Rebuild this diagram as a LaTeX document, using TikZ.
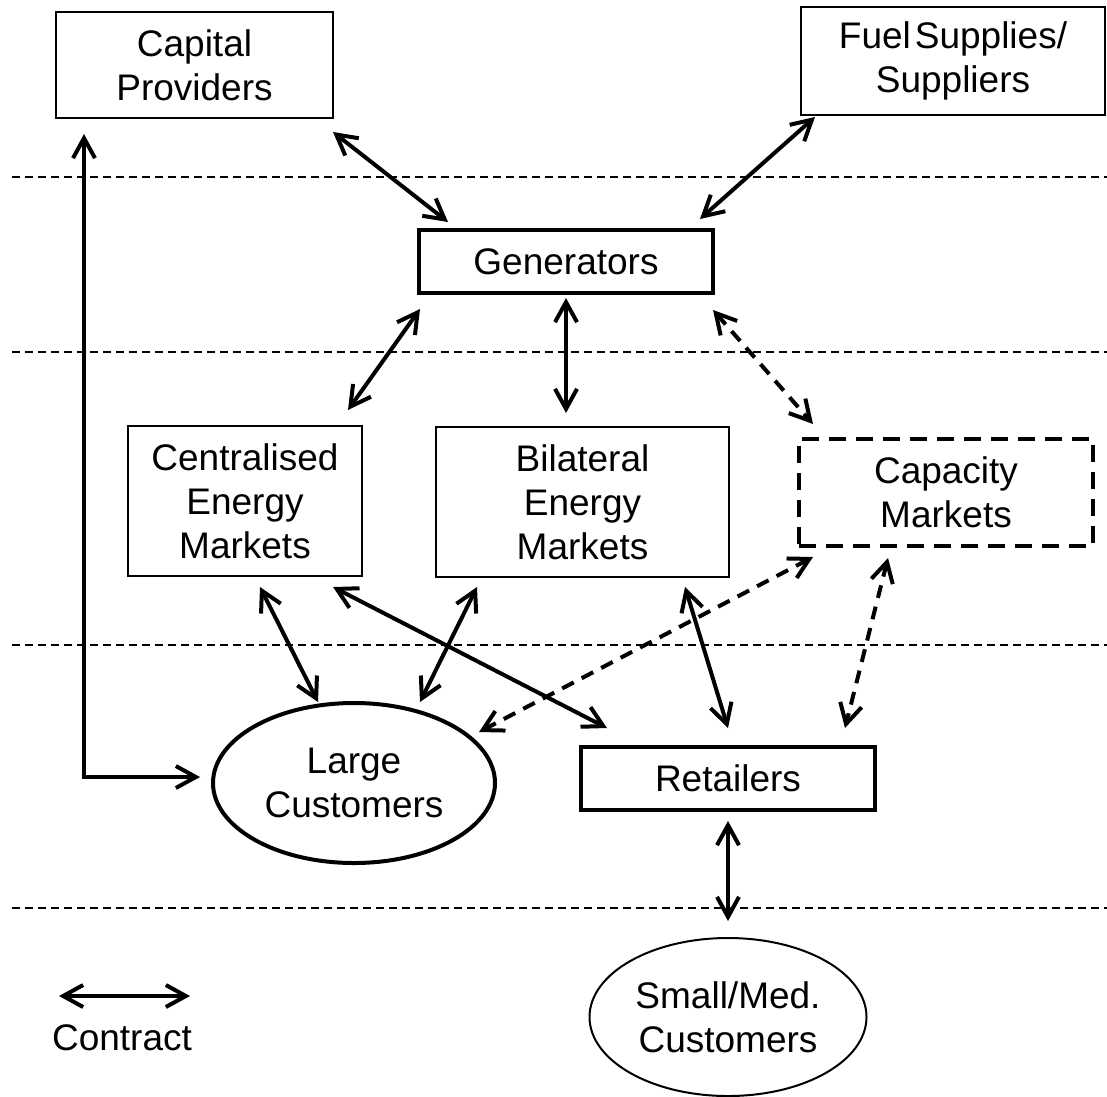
\documentclass[tikz,border=0pt]{standalone}
\usepackage{fontspec}
\setmainfont{Liberation Sans}
\usetikzlibrary{arrows.meta,shapes.geometric,calc}
\begin{document}
\begin{tikzpicture}[x=1pt,y=-1pt,
  every node/.style={font=\fontsize{37}{44}\selectfont, align=center, inner sep=0pt, outer sep=0pt},
  thinbox/.style={draw, line width=2.2pt, rectangle},
  thickbox/.style={draw, line width=4pt, rectangle},
  conn/.style={line width=4pt, {Straight Barb[length=20pt,width=22pt]}-{Straight Barb[length=20pt,width=22pt]}},
  dconn/.style={conn, dash pattern=on 13pt off 9pt},
  sep/.style={line width=1.8pt, dash pattern=on 8pt off 5pt}]

\fill[white] (0,0) rectangle (1107,1096);
\useasboundingbox (0,0) rectangle (1107,1096);

% separators
\foreach \yy in {177,352,645,908} \draw[sep] (12,\yy) -- (1107,\yy);

% nodes
\node[thinbox, minimum width=277pt, minimum height=106pt] (cap) at (194.5,65) {Capital\\Providers};
\node[thinbox, minimum width=304pt, minimum height=108pt] (fuel) at (953,61) {Fuel\hspace{4pt}Supplies/\\Suppliers};
\node[thickbox, minimum width=294pt, minimum height=63pt] (gen) at (566,261.5) {Generators};
\node[thinbox, minimum width=234pt, minimum height=150pt] (cen) at (245,501) {Centralised\\Energy\\Markets};
\node[thinbox, minimum width=293pt, minimum height=150pt] (bil) at (582.5,502) {Bilateral\\Energy\\Markets};
\node[draw, line width=4.5pt, dash pattern=on 17pt off 10pt, minimum width=294pt, minimum height=107pt] (capm) at (946,492.5) {Capacity\\Markets};
\node[ellipse, draw, line width=4pt, minimum width=282pt, minimum height=160pt] (large) at (354,783) {Large\\Customers};
\node[thickbox, minimum width=294pt, minimum height=63pt] (ret) at (728,778.5) {Retailers};
\node[ellipse, draw, line width=2pt, minimum width=277pt, minimum height=158pt] (small) at (728,1017) {Small/Med.\\Customers};
\node (ct) at (122,1038) {Contract};
\coordinate (lg1) at (59,996);
\coordinate (lg2) at (190,996);

% connectors
\draw[conn] ($(cap.south east)+(0,14)$) -- ($(gen.north west)+(29,-8)$);
\draw[conn] ($(fuel.south west)+(14,2)$) -- ($(gen.north east)+(-13,-11)$);
\draw[conn] ($(gen.south west)+(1,16)$) -- ($(cen.north east)+(-14,-16)$);
\draw[conn] ($(gen.south)+(0,5)$) -- ($(bil.north)+(-16.5,-14)$);
\draw[dconn] ($(gen.south east)+(0,17)$) -- ($(capm.north west)+(14,-15)$);
\draw[conn] ($(cap.south west)+(28,16)$) |- ($(large.west)+(-13,-6)$);
\draw[conn] ($(cen.south)+(15,11)$) -- ($(large.north)+(-36,-1)$);
\draw[conn] ($(cen.south east)+(-29,11)$) -- ($(ret.north west)+(26,-19)$);
\draw[conn] ($(bil.south west)+(41,10)$) -- ($(large.north)+(66,-1)$);
\draw[conn] ($(bil.south east)+(-44,10)$) -- ($(ret.north)+(0,-19)$);
\draw[dconn] ($(capm.south west)+(14,11)$) -- ($(large.center)+(125,-51)$);
\draw[dconn] ($(capm.south)+(-58,12)$) -- ($(ret.north east)+(-30,-19)$);
\draw[conn] ($(ret.south)+(0,11)$) -- ($(small.north)+(0,-17)$);
\draw[conn] (lg1) -- (lg2);
\end{tikzpicture}
\end{document}
